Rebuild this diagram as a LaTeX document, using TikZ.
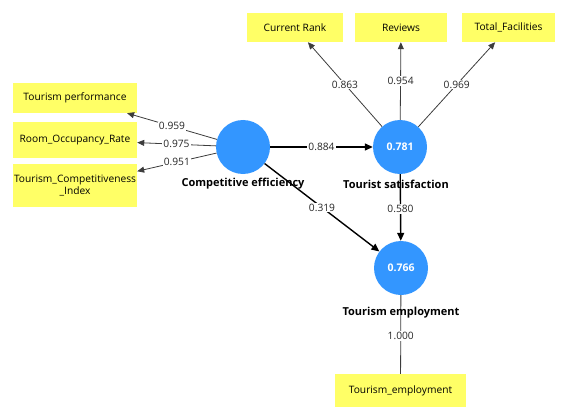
\documentclass[tikz,border=0pt]{standalone}
\usepackage{fontspec}
\setmainfont{Open Sans}
\usetikzlibrary{arrows.meta}
\definecolor{lv}{RGB}{51,150,255}
\definecolor{ind}{RGB}{255,255,102}
\definecolor{outerc}{RGB}{60,60,60}
\begin{document}
\begin{tikzpicture}[x=1pt,y=-1pt,
  indbox/.style={fill=ind,draw=none,inner sep=0pt,align=center,font=\fontsize{10.2}{12.5}\selectfont},
  latent/.style={circle,fill=lv,draw=none,minimum size=54pt,inner sep=0pt,text=white,font=\bfseries\fontsize{10.5}{12}\selectfont},
  lvname/.style={font=\bfseries\fontsize{11}{13}\selectfont,inner sep=0pt},
  outerarrow/.style={draw=outerc,line width=0.8pt,-{Triangle[length=7pt,width=6pt]}},
  outerline/.style={draw=outerc,line width=0.8pt},
  innerarrow/.style={draw=black,line width=1.4pt,-{Triangle[length=8pt,width=7pt]}},
  coef/.style={fill=white,inner sep=1pt,font=\fontsize{10.2}{12}\selectfont,text=black!85}]
\useasboundingbox (0,0) rectangle (567,409);
% indicators
\node[indbox,minimum width=124pt,minimum height=30pt] (tp) at (75,98) {Tourism performance};
\node[indbox,minimum width=124pt,minimum height=36pt] (room) at (75,140) {Room\_Occupancy\_Rate};
\node[indbox,minimum width=124pt,minimum height=43pt] (tci) at (75,185.5) {Tourism\_Competitiveness\\\_Index};
\node[indbox,minimum width=96pt,minimum height=29pt] (cr) at (295,27.5) {Current Rank};
\node[indbox,minimum width=92pt,minimum height=29pt] (rev) at (401,27.5) {Reviews};
\node[indbox,minimum width=93pt,minimum height=29pt] (tf) at (508.5,27.5) {Total\_Facilities};
\node[indbox,minimum width=131pt,minimum height=33pt] (temp) at (400.5,390.5) {Tourism\_employment};
% latent variables
\node[latent] (ce) at (243,147) {};
\node[latent] (ts) at (400,147) {0.781};
\node[latent] (te) at (401,268) {0.766};
% outer paths
\draw[outerarrow] (ce) -- node[coef,pos=0.5]{0.959} (tp);
\draw[outerarrow] (ce) -- node[coef,pos=0.5]{0.975} (room);
\draw[outerarrow] (ce) -- node[coef,pos=0.5]{0.951} (tci);
\draw[outerarrow] (ts) -- node[coef,pos=0.5]{0.863} (cr);
\draw[outerarrow] (ts) -- node[coef,pos=0.5]{0.954} (rev);
\draw[outerarrow] (ts) -- node[coef,pos=0.5]{0.969} (tf);
\draw[outerline] (te) -- node[coef,pos=0.52]{1.000} (temp);
% inner paths
\draw[innerarrow] (ce) -- node[coef,pos=0.5]{0.884} (ts);
\draw[innerarrow] (ce) -- node[coef,pos=0.5]{0.319} (te);
\draw[innerarrow] (ts) -- node[coef,pos=0.52]{0.580} (te);
% names
\node[lvname] (cename) at (243,184) {Competitive efficiency};
\node[lvname] (tsname) at (396,184) {Tourist satisfaction};
\node[lvname] (tename) at (401,313) {Tourism employment};
\end{tikzpicture}
\end{document}
